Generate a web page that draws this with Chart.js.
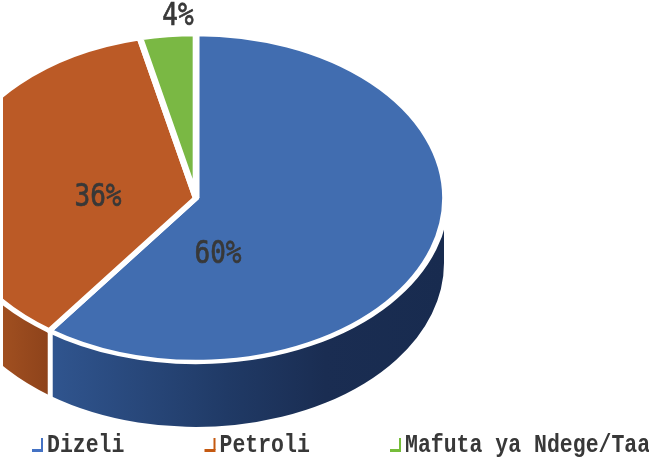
<!DOCTYPE html>
<html>
<head>
<meta charset="utf-8">
<script src="https://cdn.jsdelivr.net/npm/chart.js@4"></script>
<style>
    body { margin: 0; background: #fff; }
    canvas { display: block; }
</style>
</head>
<body>
<canvas id="chart" width="649" height="457"></canvas>
<script>
const categories = ['Dizeli', 'Petroli', 'Mafuta ya Ndege/Taa'];
const shares = [60, 36.4, 3.6];
const sliceColors = ['#416db0', '#bb5a26', '#7ab844'];
const legendColors = ['#4472c4', '#c55a11', '#76bd3a'];

// where the pie sits on the page (the library only knows circles)
const pie = { x: 196, y: 198, rx: 249.5, ry: 164, depth: 65, left: 3 };
const labelSpots = [[218, 254.5], [98, 197.5], [178, 16.5]];
const legendSpots = [32, 204.5, 390];

function sideGradient(ctx, i) {
    let g;
    if (i === 0) {
        g = ctx.createLinearGradient(50, 0, 443, 0);
        g.addColorStop(0, '#30558f');
        g.addColorStop(0.45, '#203a66');
        g.addColorStop(0.7, '#1a2d52');
        g.addColorStop(1, '#182b4f');
    } else {
        g = ctx.createLinearGradient(3, 0, 48, 0);
        g.addColorStop(0, '#a04f20');
        g.addColorStop(1, '#8e431b');
    }
    return g;
}

const flatPie = {
    id: 'flatPie',
    beforeDatasetsDraw(chart) {
        const ctx = chart.ctx;
        const arcs = chart.getDatasetMeta(0).data;
        const wallRx = pie.rx - 1.5;

        ctx.save();
        ctx.beginPath();
        ctx.rect(pie.left, 0, chart.width, chart.height);
        ctx.clip();

        // side wall, only for the part facing the viewer
        arcs.forEach((arc, i) => {
            const a1 = Math.max(arc.startAngle, 0);
            const a2 = Math.min(arc.endAngle, Math.PI);
            if (a1 >= a2) return;
            ctx.beginPath();
            ctx.ellipse(pie.x, pie.y, wallRx, pie.ry, 0, a1, a2);
            ctx.ellipse(pie.x, pie.y + pie.depth, wallRx, pie.ry, 0, a2, a1, true);
            ctx.closePath();
            ctx.fillStyle = sideGradient(ctx, i);
            ctx.fill();
        });

        // white seam on the wall between the slices
        const seam = arcs[0].endAngle;
        const sx = pie.x + wallRx * Math.cos(seam);
        const sy = pie.y + pie.ry * Math.sin(seam);
        ctx.beginPath();
        ctx.moveTo(sx, sy);
        ctx.lineTo(sx, sy + pie.depth + 4);
        ctx.strokeStyle = '#fff';
        ctx.lineWidth = 5;
        ctx.stroke();

        const arc = arcs[0];
        ctx.translate(pie.x, pie.y);
        ctx.scale(pie.rx / arc.outerRadius, pie.ry / arc.outerRadius);
        ctx.translate(-arc.x, -arc.y);
    },
    afterDatasetsDraw(chart) {
        const ctx = chart.ctx;
        ctx.restore();

        ctx.fillStyle = '#383838';
        ctx.strokeStyle = '#383838';
        ctx.lineWidth = 0.6;
        ctx.textAlign = 'center';
        ctx.textBaseline = 'middle';
        ctx.font = '26px "DejaVu Sans Mono"';
        shares.forEach((v, i) => {
            ctx.save();
            ctx.translate(labelSpots[i][0], labelSpots[i][1]);
            ctx.scale(1, 1.2);
            ctx.fillText(Math.round(v) + '%', 0, 0);
            ctx.strokeText(Math.round(v) + '%', 0, 0);
            ctx.restore();
        });

        ctx.textAlign = 'left';
        ctx.textBaseline = 'alphabetic';
        ctx.font = 'bold 21.5px "Liberation Mono"';
        categories.forEach((name, i) => {
            const x = legendSpots[i];
            ctx.fillStyle = legendColors[i];
            ctx.fillRect(x, 449, 11, 3);
            ctx.fillRect(x + 9, 438, 2, 12);
            ctx.save();
            ctx.translate(x + 15, 451.5);
            ctx.scale(1, 1.18);
            ctx.fillStyle = '#383838';
            ctx.fillText(name, 0, 0);
            ctx.restore();
        });
    }
};

new Chart(document.querySelector('#chart'), {
    type: 'pie',
    data: {
        labels: categories,
        datasets: [{
            data: shares,
            backgroundColor: sliceColors,
            borderColor: '#fff',
            borderWidth: 6,
            clip: false
        }]
    },
    options: {
        responsive: false,
        animation: false,
        plugins: {
            legend: { display: false },
            tooltip: { enabled: false }
        }
    },
    plugins: [flatPie]
});
</script>
</body>
</html>
